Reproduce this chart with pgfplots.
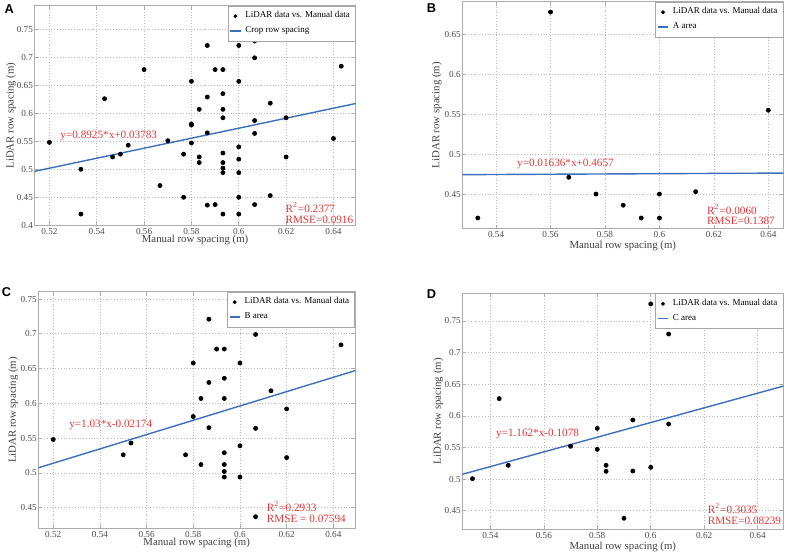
\documentclass[border=0pt]{standalone}
\usepackage{fontspec}
\setmainfont{Liberation Serif}
\newfontfamily\arial{Liberation Sans}
\usepackage{pgfplots}
\pgfplotsset{compat=1.18}
\definecolor{fitblue}{RGB}{60,110,190}
\definecolor{annred}{RGB}{214,60,60}
\tikzset{ann/.style={font=\fontsize{5.6}{6.2}\selectfont, text=annred, anchor=west, inner sep=0pt}}
\pgfplotsset{
  panel/.style={
    scale only axis,
    anchor=south west,
    grid=major,
    major grid style={densely dotted, gray!55, line width=0.3pt},
    axis line style={gray!65, line width=0.4pt},
    tick style={gray!65, line width=0.3pt},
    tick align=inside,
    major tick length=2pt,
    ticklabel style={font=\fontsize{4.6}{5}\selectfont, text=black!70},
    yticklabel style={inner xsep=0.6pt},
    xticklabel style={inner ysep=1.2pt},
    xlabel={Manual row spacing (m)},
    ylabel={LiDAR row spacing (m)},
    every axis x label/.style={at={(axis description cs:0.5,0)}, anchor=center, font=\fontsize{5.4}{6}\selectfont, text=black!75},
    every axis y label/.style={rotate=90, anchor=center, font=\fontsize{5.4}{6}\selectfont, text=black!75},
    scaled ticks=false,
    /pgf/number format/assume math mode=true,
    /pgf/number format/fixed,
    /pgf/number format/precision=3,
    legend cell align=left,
    legend style={at={(1,1)}, anchor=north east, draw=gray!70, line width=0.3pt,
      font=\fontsize{4.5}{5.3}\selectfont, inner sep=0.8pt, row sep=-1.2pt, fill=white},
  },
  dots/.style={only marks, mark=*, mark size=1pt, black},
  fitline/.style={color=fitblue, line width=0.7pt, no marks},
  legline/.style={color=fitblue, line width=0.8pt, no marks},
  dotleg/.style={only marks, mark=*, mark size=0.8pt, black},
  legend image code/.code={\draw[mark repeat=2, mark phase=2, #1] plot coordinates {(0cm,0cm) (0.09cm,0cm) (0.18cm,0cm)};},
}
\begin{document}
\begin{tikzpicture}
\useasboundingbox (0,0) rectangle (393.5pt,277pt);
% ---------------- A ----------------
\begin{axis}[panel, at={(17.25pt,164.35pt)}, width=160.6pt, height=109.8pt,
  xmin=0.5137, xmax=0.6494, ymin=0.4, ymax=0.792,
  xlabel style={yshift=-7.4pt},
  ylabel style={at={(axis description cs:-0.0732,0.5)}},
  xtick={0.52,0.54,0.56,0.58,0.6,0.62,0.64},
  ytick={0.4,0.45,0.5,0.55,0.6,0.65,0.7,0.75}]
\addplot[dots, forget plot] coordinates {
(0.52,0.548) (0.5333,0.50) (0.5333,0.42) (0.5433,0.626) (0.5467,0.522) (0.55,0.527)
(0.5533,0.543) (0.56,0.678) (0.5667,0.471) (0.57,0.551) (0.5767,0.527) (0.5767,0.450)
(0.58,0.657) (0.58,0.581) (0.58,0.579) (0.58,0.547) (0.5833,0.607) (0.5833,0.522)
(0.5833,0.512) (0.5867,0.721) (0.5867,0.629) (0.5867,0.565) (0.5867,0.436) (0.59,0.678)
(0.59,0.437) (0.5933,0.678) (0.5933,0.635) (0.5933,0.607) (0.5933,0.592) (0.5933,0.529)
(0.5933,0.512) (0.5933,0.502) (0.5933,0.494) (0.5933,0.420) (0.60,0.721) (0.60,0.657)
(0.60,0.540) (0.60,0.518) (0.60,0.494) (0.60,0.450) (0.60,0.420) (0.60,0.777)
(0.6067,0.729) (0.6067,0.699) (0.6067,0.587) (0.6067,0.564) (0.6067,0.437)
(0.6133,0.618) (0.6133,0.453) (0.62,0.592) (0.62,0.522) (0.63,0.748) (0.64,0.555) (0.6433,0.684)
};
\addplot[fitline, forget plot] coordinates {(0.5137,0.4963) (0.6494,0.6174)};
\addlegendimage{dotleg}
\addlegendentry{LiDAR data vs. Manual data}
\addlegendimage{legline}
\addlegendentry{Crop row spacing}
\node[ann] at (axis cs:0.5245,0.5595) {y=0.8925*x+0.03783};
\node[ann] at (axis cs:0.6196,0.4325) {R\textsuperscript{2}=0.2377};
\node[ann] at (axis cs:0.6196,0.4095) {RMSE=0.0916};
\end{axis}
% ---------------- B ----------------
\begin{axis}[panel, at={(231.15pt,162.65pt)}, width=160.5pt, height=113.5pt,
  xmin=0.5276, xmax=0.6455, ymin=0.4066, ymax=0.691,
  xlabel style={yshift=-8.4pt},
  ylabel style={at={(axis description cs:-0.0798,0.5)}},
  xtick={0.54,0.56,0.58,0.6,0.62,0.64},
  ytick={0.45,0.5,0.55,0.6,0.65}]
\addplot[dots, forget plot] coordinates {
(0.5333,0.420) (0.56,0.678) (0.5667,0.471) (0.5767,0.450) (0.5867,0.436)
(0.5933,0.420) (0.60,0.450) (0.60,0.420) (0.6133,0.453) (0.64,0.555)
};
\addplot[fitline, forget plot] coordinates {(0.5276,0.4743) (0.6455,0.4763)};
\addlegendimage{dotleg}
\addlegendentry{LiDAR data vs. Manual data}
\addlegendimage{legline}
\addlegendentry{A area}
\node[ann] at (axis cs:0.5476,0.4876) {y=0.01636*x+0.4657};
\node[ann] at (axis cs:0.6174,0.4310) {R\textsuperscript{2}=0.0060};
\node[ann] at (axis cs:0.6174,0.4166) {RMSE=0.1387};
\end{axis}
% ---------------- C ----------------
\begin{axis}[panel, at={(19.15pt,12.85pt)}, width=158.35pt, height=118.3pt,
  xmin=0.5136, xmax=0.6493, ymin=0.4203, ymax=0.7605,
  xlabel style={yshift=-7.5pt},
  ylabel style={at={(axis description cs:-0.079,0.5)}},
  xtick={0.52,0.54,0.56,0.58,0.6,0.62,0.64},
  ytick={0.45,0.5,0.55,0.6,0.65,0.7,0.75}]
\addplot[dots, forget plot] coordinates {
(0.52,0.548) (0.55,0.526) (0.5533,0.543) (0.5767,0.526) (0.58,0.658) (0.58,0.581)
(0.5833,0.607) (0.5833,0.512) (0.5867,0.721) (0.5867,0.630) (0.5867,0.565)
(0.59,0.678) (0.5933,0.678) (0.5933,0.636) (0.5933,0.607) (0.5933,0.529)
(0.5933,0.512) (0.5933,0.502) (0.5933,0.494) (0.60,0.721) (0.60,0.658)
(0.60,0.539) (0.60,0.494) (0.6067,0.699) (0.6067,0.564) (0.6067,0.437)
(0.6133,0.618) (0.62,0.592) (0.62,0.522) (0.6433,0.684)
};
\addplot[fitline, forget plot] coordinates {(0.5136,0.5073) (0.6493,0.6470)};
\addlegendimage{dotleg}
\addlegendentry{LiDAR data vs. Manual data}
\addlegendimage{legline}
\addlegendentry{B area}
\node[ann] at (axis cs:0.5267,0.5683) {y=1.03*x-0.02174};
\node[ann] at (axis cs:0.6114,0.4514) {R\textsuperscript{2}=0.2933};
\node[ann] at (axis cs:0.6114,0.4332) {RMSE = 0.07594};
\end{axis}
% ---------------- D ----------------
\begin{axis}[panel, at={(231.15pt,12.35pt)}, width=160.5pt, height=118pt,
  xmin=0.5295, xmax=0.6496, ymin=0.4205, ymax=0.7938,
  xlabel style={yshift=-8.6pt},
  ylabel style={at={(axis description cs:-0.0748,0.5)}},
  xtick={0.54,0.56,0.58,0.6,0.62,0.64},
  ytick={0.45,0.5,0.55,0.6,0.65,0.7,0.75}]
\addplot[dots, forget plot] coordinates {
(0.5333,0.5006) (0.5433,0.6272) (0.5467,0.5217) (0.57,0.5518) (0.58,0.5802)
(0.58,0.547) (0.5833,0.5217) (0.5833,0.5122) (0.59,0.4379) (0.5933,0.5934)
(0.5933,0.5127) (0.60,0.777) (0.60,0.5186) (0.6067,0.7294) (0.6067,0.587)
};
\addplot[fitline, forget plot] coordinates {(0.5295,0.5075) (0.6496,0.6470)};
\addlegendimage{dotleg}
\addlegendentry{LiDAR data vs. Manual data}
\addlegendimage{legline}
\addlegendentry{C area}
\node[ann] at (axis cs:0.5420,0.5707) {y=1.162*x-0.1078};
\node[ann] at (axis cs:0.6212,0.4537) {R\textsuperscript{2}=0.3035};
\node[ann] at (axis cs:0.6212,0.4342) {RMSE=0.08239};
\end{axis}
% panel letters
\node[font=\arial\bfseries\fontsize{6.4}{7}\selectfont] at (4.6pt,272.6pt) {A};
\node[font=\arial\bfseries\fontsize{6.4}{7}\selectfont] at (215.75pt,273.2pt) {B};
\node[font=\arial\bfseries\fontsize{6.4}{7}\selectfont] at (3.2pt,130.8pt) {C};
\node[font=\arial\bfseries\fontsize{6.4}{7}\selectfont] at (215.75pt,130.2pt) {D};
\end{tikzpicture}
\end{document}
